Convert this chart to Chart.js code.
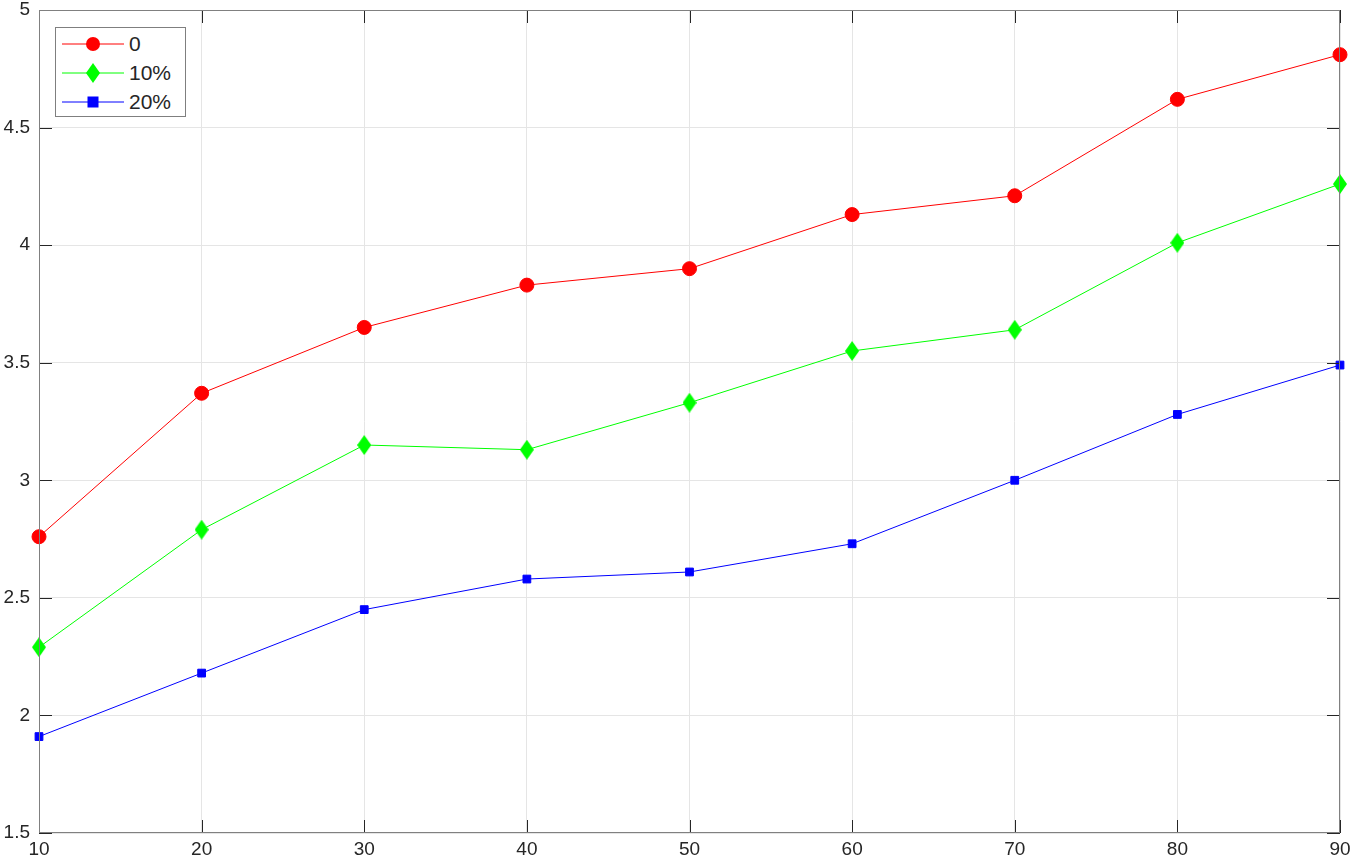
<!DOCTYPE html>
<html>
<head>
<meta charset="utf-8">
<script src="https://cdn.jsdelivr.net/npm/chart.js@4.4.1/dist/chart.umd.min.js"></script>
<style>
    body { margin: 0; background: #fff; }
    #wrap { position: relative; width: 1353px; height: 862px; }
    #legend {
        position: absolute; left: 55px; top: 27px; width: 129px; height: 88px;
        border: 1px solid #7f7f7f; background: #fff;
        font-family: "Liberation Sans", Arial, sans-serif; font-size: 21px; color: #262626;
    }
    .row { position: absolute; left: 6px; height: 24px; display: flex; align-items: center; }
    .row span { margin-left: 5px; line-height: 24px; }
</style>
</head>
<body>
<div id="wrap">
    <canvas id="chart" width="1353" height="862"></canvas>
    <div id="legend"></div>
</div>
<script>
// ---------- Data ----------
const xValues = [10, 20, 30, 40, 50, 60, 70, 80, 90];
const seriesNames = ["0", "10%", "20%"];
const red0 = [2.76, 3.37, 3.65, 3.83, 3.90, 4.13, 4.21, 4.62, 4.81];
const green10 = [2.29, 2.79, 3.15, 3.13, 3.33, 3.55, 3.64, 4.01, 4.26];
const blue20 = [1.91, 2.18, 2.45, 2.58, 2.61, 2.73, 3.00, 3.28, 3.49];
const xTicks = [10, 20, 30, 40, 50, 60, 70, 80, 90];
const yTicks = [1.5, 2, 2.5, 3, 3.5, 4, 4.5, 5];

const colors = ["#ff0000", "#00ff00", "#0000ff"];

// tall diamond marker like MATLAB
function diamondImage() {
    const c = document.createElement("canvas");
    c.width = 14; c.height = 20;
    const g = c.getContext("2d");
    g.fillStyle = "#00ff00";
    g.beginPath();
    g.moveTo(7, 0); g.lineTo(14, 10); g.lineTo(7, 20); g.lineTo(0, 10);
    g.closePath(); g.fill();
    return c;
}
const diamond = diamondImage();

function toPoints(arr) {
    return arr.map((v, i) => ({ x: xValues[i], y: v }));
}

// ---------- Inward ticks + box ----------
const boxPlugin = {
    id: "boxTicks",
    afterDraw(chart) {
        const ctx = chart.ctx;
        const a = chart.chartArea;
        const xs = chart.scales.x, ys = chart.scales.y;
        ctx.save();
        ctx.strokeStyle = "#262626";
        ctx.lineWidth = 1;
        ctx.beginPath();
        xTicks.forEach(t => {
            const px = Math.round(xs.getPixelForValue(t)) + 0.5;
            ctx.moveTo(px, a.bottom); ctx.lineTo(px, a.bottom - 13);
            ctx.moveTo(px, a.top); ctx.lineTo(px, a.top + 13);
        });
        yTicks.forEach(t => {
            const py = Math.round(ys.getPixelForValue(t)) + 0.5;
            ctx.moveTo(a.left, py); ctx.lineTo(a.left + 13, py);
            ctx.moveTo(a.right, py); ctx.lineTo(a.right - 13, py);
        });
        ctx.stroke();
        ctx.strokeStyle = "#808080";
        ctx.strokeRect(a.left + 0.5, a.top + 0.5, a.right - a.left - 1, a.bottom - a.top - 1);
        ctx.restore();
    }
};

const font = { family: "'Liberation Sans', Arial, sans-serif", size: 19 };

new Chart(document.getElementById("chart"), {
    type: "line",
    data: {
        datasets: [
            { label: seriesNames[0], data: toPoints(red0), borderColor: colors[0], backgroundColor: colors[0],
              pointStyle: "circle", pointRadius: 7, borderWidth: 1 },
            { label: seriesNames[1], data: toPoints(green10), borderColor: colors[1], backgroundColor: colors[1],
              pointStyle: diamond, borderWidth: 1 },
            { label: seriesNames[2], data: toPoints(blue20), borderColor: colors[2], backgroundColor: colors[2],
              pointStyle: "rect", pointRadius: 5.5, borderWidth: 1 }
        ]
    },
    options: {
        responsive: false,
        animation: false,
        clip: false,
        layout: { padding: { top: 0, right: 0, left: 0, bottom: 0 } },
        plugins: { legend: { display: false }, tooltip: { enabled: false } },
        elements: { point: { borderWidth: 0 }, line: { tension: 0 } },
        scales: {
            x: {
                type: "linear", min: 10, max: 90,
                afterBuildTicks: s => { s.ticks = xTicks.map(v => ({ value: v })); },
                afterFit: s => { s.height = 29; s.paddingRight = 13; },
                grid: { color: "#e5e5e5", drawTicks: false },
                border: { display: false },
                ticks: { color: "#262626", font: font, padding: 5, maxRotation: 0 }
            },
            y: {
                min: 1.5, max: 5,
                afterBuildTicks: s => { s.ticks = yTicks.map(v => ({ value: v })); },
                afterFit: s => { s.width = 39; s.paddingTop = 10; },
                grid: { color: "#e5e5e5", drawTicks: false },
                border: { display: false },
                ticks: { color: "#262626", font: font, padding: 9, callback: v => String(v) }
            }
        }
    },
    plugins: [boxPlugin]
});

// ---------- Legend ----------
const legend = document.getElementById("legend");
const markers = [
    '<circle cx="31" cy="12" r="7" fill="#ff0000"/>',
    '<polygon points="31,2 38,12 31,22 24,12" fill="#00ff00"/>',
    '<rect x="25.5" y="6.5" width="11" height="11" fill="#0000ff"/>'
];
seriesNames.forEach((name, i) => {
    const row = document.createElement("div");
    row.className = "row";
    row.style.top = (4 + i * 29) + "px";
    row.innerHTML = '<svg width="62" height="24"><line x1="0" y1="12" x2="62" y2="12" stroke="' +
        colors[i] + '" stroke-width="1"/>' + markers[i] + '</svg><span>' + name + '</span>';
    legend.appendChild(row);
});
</script>
</body>
</html>
